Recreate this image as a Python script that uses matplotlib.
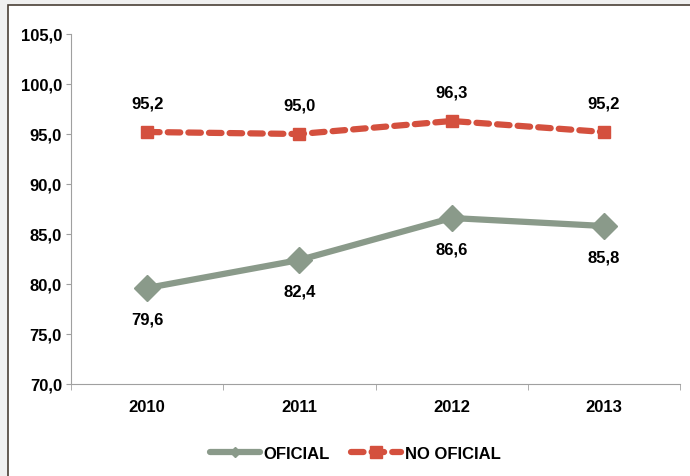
import matplotlib.pyplot as plt
from matplotlib.patches import Rectangle
from matplotlib.ticker import FixedLocator, NullFormatter

years = ['2010', '2011', '2012', '2013']
oficial = [79.6, 82.4, 86.6, 85.8]
no_oficial = [95.2, 95.0, 96.3, 95.2]

plt.rcParams['font.family'] = ['Liberation Sans', 'DejaVu Sans']
plt.rcParams['font.weight'] = 'bold'
fs = 12

fig = plt.figure(figsize=(6.9, 4.77), dpi=100)
fig.patch.set_facecolor('#f0f0f0')
# white chart area with dark frame on top and left
fig.patches.append(Rectangle((8 / 690, -0.01), 1.0, 1 - 6 / 477 + 0.01,
                             transform=fig.transFigure, facecolor='white',
                             edgecolor='#4a4036', linewidth=1.2, zorder=-5))

ax = fig.add_axes([71 / 690, 1 - 385 / 477, 609 / 690, 350 / 477])
ax.set_facecolor('none')

x = range(len(years))
green = '#8a9a8a'
red = '#d4503e'

ax.plot(x, oficial, color=green, linewidth=4.5, marker='D', markersize=13,
        solid_capstyle='round', label='OFICIAL', zorder=3)
ax.plot(x, no_oficial, color=red, linewidth=4.5, linestyle=(0, (2, 1.3)),
        marker='s', markersize=9, dash_capstyle='round', label='NO OFICIAL', zorder=3)

for i, v in enumerate(oficial):
    ax.annotate(f'{v:.1f}'.replace('.', ','), (i, v), xytext=(0, -22),
                textcoords='offset points', ha='center', va='center', fontsize=fs)
for i, v in enumerate(no_oficial):
    ax.annotate(f'{v:.1f}'.replace('.', ','), (i, v), xytext=(0, 21),
                textcoords='offset points', ha='center', va='center', fontsize=fs)

ax.set_xlim(-0.5, 3.5)
ax.set_ylim(70, 105)
ax.set_yticks([70, 75, 80, 85, 90, 95, 100, 105])
ax.set_yticklabels([f'{t:.1f}'.replace('.', ',') for t in ax.get_yticks()], fontsize=fs)
ax.set_xticks(list(x))
ax.set_xticklabels(years, fontsize=fs)
ax.tick_params(axis='x', length=0, pad=11)
ax.xaxis.set_minor_locator(FixedLocator([-0.5, 0.5, 1.5, 2.5, 3.5]))
ax.xaxis.set_minor_formatter(NullFormatter())
ax.tick_params(axis='x', which='minor', length=4, color='#a0a0a0', direction='out')
ax.tick_params(axis='y', length=3.5, color='#a0a0a0', direction='out', pad=3)

for s in ['top', 'right']:
    ax.spines[s].set_visible(False)
for s in ['left', 'bottom']:
    ax.spines[s].set_color('#a0a0a0')

leg = ax.legend(loc='upper center', bbox_to_anchor=(0.467, -0.135), ncol=2, frameon=False,
                fontsize=fs, handlelength=3.0, handletextpad=0.2, columnspacing=1.3)
leg.legend_handles[0].set_markersize(5)
leg.legend_handles[1].set_markersize(8)

fig.savefig('out.png', dpi=100)
